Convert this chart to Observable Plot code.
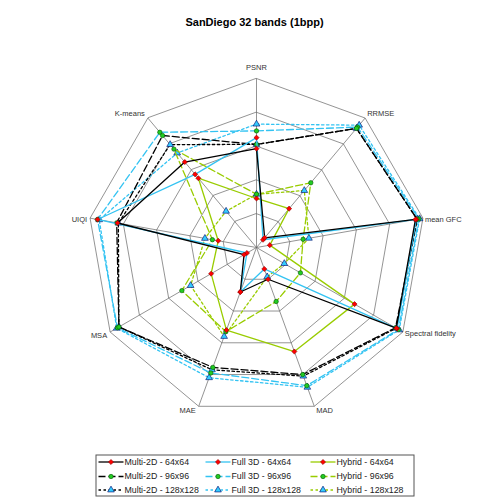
<!DOCTYPE html>
<html>
<head>
<meta charset="utf-8">
<script src="https://cdn.jsdelivr.net/npm/d3@7"></script>
<script src="https://cdn.jsdelivr.net/npm/@observablehq/plot@0.6"></script>
<style>
  html, body { margin: 0; padding: 0; background: #fff; }
  #chart svg { display: block; }
</style>
</head>
<body>
<div id="chart"></div>
<script>
// Quality indicators, clockwise from the top
const axisNames = ["PSNR", "RRMSE", "mean GFC", "Spectral fidelity", "MAD", "MAE", "MSA", "UIQI", "K-means"];
const gridLevels = [0.2, 0.4, 0.6, 0.8, 1];

// Normalised scores (0–1), one value per indicator, same order as axisNames
const multi2D_64  = [0.585, 0.075, 0.955, 0.955, 0.20, 0.28, 0.085, 0.835, 0.66];
const full3D_64   = [0.65, 0.06, 0.96, 0.96, 0.135, 0.28, 0.065, 0.955, 0.565];
const hybrid_64   = [0.29, 0.30, 0.08, 0.67, 0.655, 0.52, 0.31, 0.23, 0.535];
const multi2D_96  = [0.61, 0.92, 0.965, 0.95, 0.80, 0.755, 0.94, 0.84, 0.865];
const full3D_96   = [0.69, 0.93, 0.975, 0.97, 0.87, 0.79, 0.95, 0.955, 0.89];
const hybrid_96   = [0.315, 0.50, 0.28, 0.30, 0.34, 0.53, 0.51, 0.265, 0.76];
const multi2D_128 = [0.61, 0.92, 0.965, 0.955, 0.81, 0.77, 0.94, 0.83, 0.795];
const full3D_128  = [0.73, 0.945, 0.98, 0.975, 0.88, 0.82, 0.955, 0.945, 0.73];
const hybrid_128  = [0.315, 0.44, 0.315, 0.19, 0.185, 0.56, 0.45, 0.31, 0.28];

const methods = ["Multi-2D", "Full 3D", "Hybrid"];
const blockSizes = ["64x64", "96x96", "128x128"];

const series = [
  {method: "Multi-2D", size: "64x64", values: multi2D_64},
  {method: "Full 3D", size: "64x64", values: full3D_64},
  {method: "Hybrid", size: "64x64", values: hybrid_64},
  {method: "Multi-2D", size: "96x96", values: multi2D_96},
  {method: "Full 3D", size: "96x96", values: full3D_96},
  {method: "Hybrid", size: "96x96", values: hybrid_96},
  {method: "Multi-2D", size: "128x128", values: multi2D_128},
  {method: "Full 3D", size: "128x128", values: full3D_128},
  {method: "Hybrid", size: "128x128", values: hybrid_128}
];

// Styling: colour by method, dash and marker by block size
const methodColor = {"Multi-2D": "#000000", "Full 3D": "#33c3f2", "Hybrid": "#99cc00"};
const sizeDash = {"64x64": undefined, "96x96": "7,3", "128x128": "2.5,2.5"};
const sizeMarker = {
  "64x64":   {symbol: "diamond2", fill: "#ff0000", stroke: "#8b0000", r: 2.3},
  "96x96":   {symbol: "circle",   fill: "#22cc22", stroke: "#005500", r: 2.2},
  "128x128": {symbol: "triangle", fill: "#33ccff", stroke: "#000066", r: 2.5}
};

const n = axisNames.length;
const theta = i => (2 * Math.PI * i) / n;
const polar = (v, i) => ({x: v * Math.sin(theta(i)), y: v * Math.cos(theta(i))});

const rowsOf = s => s.values.map((v, i) => ({...polar(v, i), axis: axisNames[i], value: v}));
const gridRows = gridLevels.flatMap(level => axisNames.map((a, i) => ({level, ...polar(level, i)})));
const spokes = axisNames.map((a, i) => ({axis: a, ...polar(1, i)}));

const fontFamily = "Arial, 'Liberation Sans', sans-serif";

// Axis label placement around the outer ring
const labelMarks = axisNames.map((name, i) => {
  const s = Math.sin(theta(i)), c = Math.cos(theta(i));
  const anchor = Math.abs(s) < 1e-6 ? "middle" : (s > 0 ? "start" : "end");
  const dx = anchor === "middle" ? 0 : (s > 0 ? 2 : -3);
  const dy = anchor === "middle" ? -11 : (c > 0.5 ? -4 : (c < -0.5 ? 4 : 1.5));
  return Plot.text([spokes[i]], {
    x: "x", y: "y", text: "axis", textAnchor: anchor, dx, dy,
    fontSize: 7.5, fill: "#333"
  });
});

const seriesMarks = series.slice().reverse().flatMap(s => {
  const m = sizeMarker[s.size];
  return [
    Plot.line(rowsOf(s), {
      x: "x", y: "y", curve: "linear-closed",
      stroke: methodColor[s.method], strokeWidth: 1.3,
      strokeDasharray: sizeDash[s.size]
    }),
    Plot.dot(rowsOf(s), {
      x: "x", y: "y", symbol: m.symbol, r: m.r,
      fill: m.fill, stroke: m.stroke, strokeWidth: 0.6
    })
  ];
});

const radar = Plot.plot({
  width: 494,
  height: 454,
  margin: 0,
  style: {fontFamily, background: "#fff"},
  x: {domain: [-1, 1], range: [87, 425], axis: null},
  y: {domain: [-1, 1], range: [416, 78], axis: null},
  marks: [
    Plot.line(gridRows, {x: "x", y: "y", z: "level", curve: "linear-closed", stroke: "#666", strokeWidth: 0.7}),
    Plot.link(spokes, {x1: 0, y1: 0, x2: "x", y2: "y", stroke: "#666", strokeWidth: 0.7}),
    ...seriesMarks,
    ...labelMarks,
    Plot.text(["SanDiego 32 bands (1bpp)"], {
      frameAnchor: "top-left", dx: 254, dy: 18, textAnchor: "middle",
      fontSize: 11, fontWeight: "bold", fill: "#000"
    })
  ]
});

// Legend: three columns (method) by three rows (block size)
const colX = [98, 205, 310];
const rowY = [7.5, 22, 35.5];
const legendItems = blockSizes.flatMap((size, row) => methods.map((method, col) => ({
  method, size, label: `${method} - ${size}`,
  x0: colX[col], x1: colX[col] + 25, xm: colX[col] + 12.5, xt: colX[col] + 26, y: rowY[row]
})));

const legendMarks = blockSizes.flatMap(size => {
  const items = legendItems.filter(d => d.size === size);
  const m = sizeMarker[size];
  return [
    Plot.link(items, {
      x1: "x0", x2: "x1", y1: "y", y2: "y",
      stroke: d => methodColor[d.method], strokeWidth: 1.3,
      strokeDasharray: sizeDash[size]
    }),
    Plot.dot(items, {
      x: "xm", y: "y", symbol: m.symbol, r: m.r,
      fill: m.fill, stroke: m.stroke, strokeWidth: 0.6
    })
  ];
});

const legend = Plot.plot({
  width: 494,
  height: 43,
  marginLeft: 95.5, marginRight: 80.5, marginTop: 0.5, marginBottom: 1.5,
  style: {fontFamily, background: "#fff"},
  x: {type: "identity", axis: null},
  y: {type: "identity", axis: null},
  marks: [
    Plot.frame({stroke: "#555", strokeWidth: 1}),
    ...legendMarks,
    Plot.text(legendItems, {x: "xt", y: "y", text: "label", textAnchor: "start", fontSize: 8.8, fill: "#222"})
  ]
});

const root = document.getElementById("chart");
root.append(radar, legend);
</script>
</body>
</html>
